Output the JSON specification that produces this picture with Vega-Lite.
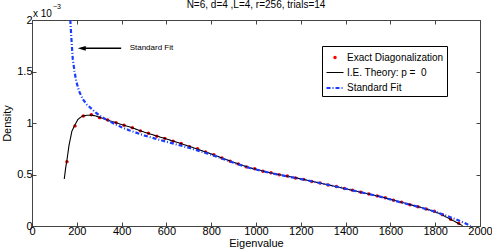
{
  "$schema": "https://vega.github.io/schema/vega-lite/v6.json",
  "width": 448,
  "height": 206,
  "autosize": "none",
  "padding": {"left": 32, "top": 20, "right": 12, "bottom": 26},
  "background": "white",
  "title": {"text": "N=6, d=4 ,L=4, r=256, trials=14", "font": "Liberation Sans", "fontSize": 10, "fontWeight": "normal", "color": "black", "offset": 2, "dy": 9},
  "config": {
    "view": {"stroke": "#444", "strokeWidth": 1},
    "axis": {"labelFont": "Liberation Sans", "labelFontSize": 11, "labelColor": "black", "titleFont": "Liberation Sans", "titleFontSize": 11, "titleFontWeight": "normal", "titleColor": "black", "grid": false, "domain": false, "tickColor": "#444", "tickSize": -4, "labelFlush": false, "labelOverlap": false},
    "legend": {"labelFont": "Liberation Sans", "labelFontSize": 10, "labelColor": "black"}
  },
  "datasets": {
    "curves": [
      {"series": "I.E. Theory: p = \u00a00", "eig": 144, "density": 0.456},
      {"series": "I.E. Theory: p = \u00a00", "eig": 150, "density": 0.56},
      {"series": "I.E. Theory: p = \u00a00", "eig": 156, "density": 0.64},
      {"series": "I.E. Theory: p = \u00a00", "eig": 165, "density": 0.78},
      {"series": "I.E. Theory: p = \u00a00", "eig": 178, "density": 0.92},
      {"series": "I.E. Theory: p = \u00a00", "eig": 190, "density": 0.975},
      {"series": "I.E. Theory: p = \u00a00", "eig": 205, "density": 1.035},
      {"series": "I.E. Theory: p = \u00a00", "eig": 224, "density": 1.066},
      {"series": "I.E. Theory: p = \u00a00", "eig": 245, "density": 1.075},
      {"series": "I.E. Theory: p = \u00a00", "eig": 265, "density": 1.077},
      {"series": "I.E. Theory: p = \u00a00", "eig": 285, "density": 1.068},
      {"series": "I.E. Theory: p = \u00a00", "eig": 302, "density": 1.055},
      {"series": "I.E. Theory: p = \u00a00", "eig": 340, "density": 1.026},
      {"series": "I.E. Theory: p = \u00a00", "eig": 369, "density": 1.007},
      {"series": "I.E. Theory: p = \u00a00", "eig": 400, "density": 0.985},
      {"series": "I.E. Theory: p = \u00a00", "eig": 436, "density": 0.962},
      {"series": "I.E. Theory: p = \u00a00", "eig": 500, "density": 0.912},
      {"series": "I.E. Theory: p = \u00a00", "eig": 570, "density": 0.865},
      {"series": "I.E. Theory: p = \u00a00", "eig": 640, "density": 0.818},
      {"series": "I.E. Theory: p = \u00a00", "eig": 704, "density": 0.772},
      {"series": "I.E. Theory: p = \u00a00", "eig": 800, "density": 0.700},
      {"series": "I.E. Theory: p = \u00a00", "eig": 900, "density": 0.618},
      {"series": "I.E. Theory: p = \u00a00", "eig": 972, "density": 0.566},
      {"series": "I.E. Theory: p = \u00a00", "eig": 1061, "density": 0.518},
      {"series": "I.E. Theory: p = \u00a00", "eig": 1130, "density": 0.488},
      {"series": "I.E. Theory: p = \u00a00", "eig": 1195, "density": 0.460},
      {"series": "I.E. Theory: p = \u00a00", "eig": 1300, "density": 0.410},
      {"series": "I.E. Theory: p = \u00a00", "eig": 1400, "density": 0.362},
      {"series": "I.E. Theory: p = \u00a00", "eig": 1464, "density": 0.330},
      {"series": "I.E. Theory: p = \u00a00", "eig": 1553, "density": 0.287},
      {"series": "I.E. Theory: p = \u00a00", "eig": 1642, "density": 0.235},
      {"series": "I.E. Theory: p = \u00a00", "eig": 1732, "density": 0.182},
      {"series": "I.E. Theory: p = \u00a00", "eig": 1777, "density": 0.155},
      {"series": "I.E. Theory: p = \u00a00", "eig": 1821, "density": 0.120},
      {"series": "I.E. Theory: p = \u00a00", "eig": 1866, "density": 0.068},
      {"series": "I.E. Theory: p = \u00a00", "eig": 1895, "density": 0.035},
      {"series": "I.E. Theory: p = \u00a00", "eig": 1922, "density": 0.003},
      {"series": "Standard Fit", "eig": 171, "density": 2.0},
      {"series": "Standard Fit", "eig": 175, "density": 1.85},
      {"series": "Standard Fit", "eig": 182, "density": 1.62},
      {"series": "Standard Fit", "eig": 190, "density": 1.50},
      {"series": "Standard Fit", "eig": 197, "density": 1.41},
      {"series": "Standard Fit", "eig": 210, "density": 1.31},
      {"series": "Standard Fit", "eig": 227, "density": 1.23},
      {"series": "Standard Fit", "eig": 245, "density": 1.18},
      {"series": "Standard Fit", "eig": 265, "density": 1.14},
      {"series": "Standard Fit", "eig": 285, "density": 1.10},
      {"series": "Standard Fit", "eig": 302, "density": 1.072},
      {"series": "Standard Fit", "eig": 330, "density": 1.035},
      {"series": "Standard Fit", "eig": 361, "density": 1.0},
      {"series": "Standard Fit", "eig": 400, "density": 0.958},
      {"series": "Standard Fit", "eig": 436, "density": 0.928},
      {"series": "Standard Fit", "eig": 500, "density": 0.880},
      {"series": "Standard Fit", "eig": 570, "density": 0.836},
      {"series": "Standard Fit", "eig": 640, "density": 0.795},
      {"series": "Standard Fit", "eig": 704, "density": 0.757},
      {"series": "Standard Fit", "eig": 800, "density": 0.692},
      {"series": "Standard Fit", "eig": 900, "density": 0.614},
      {"series": "Standard Fit", "eig": 972, "density": 0.563},
      {"series": "Standard Fit", "eig": 1061, "density": 0.516},
      {"series": "Standard Fit", "eig": 1195, "density": 0.458},
      {"series": "Standard Fit", "eig": 1300, "density": 0.410},
      {"series": "Standard Fit", "eig": 1400, "density": 0.362},
      {"series": "Standard Fit", "eig": 1464, "density": 0.330},
      {"series": "Standard Fit", "eig": 1553, "density": 0.285},
      {"series": "Standard Fit", "eig": 1642, "density": 0.232},
      {"series": "Standard Fit", "eig": 1732, "density": 0.182},
      {"series": "Standard Fit", "eig": 1800, "density": 0.138},
      {"series": "Standard Fit", "eig": 1850, "density": 0.100},
      {"series": "Standard Fit", "eig": 1900, "density": 0.058},
      {"series": "Standard Fit", "eig": 1930, "density": 0.030},
      {"series": "Standard Fit", "eig": 1958, "density": 0.0}
    ],
    "dots": [
      {"series": "Exact Diagonalization", "eig": 156, "density": 0.625},
      {"series": "Exact Diagonalization", "eig": 192, "density": 0.972},
      {"series": "Exact Diagonalization", "eig": 229, "density": 1.068},
      {"series": "Exact Diagonalization", "eig": 265, "density": 1.080},
      {"series": "Exact Diagonalization", "eig": 302, "density": 1.052},
      {"series": "Exact Diagonalization", "eig": 338, "density": 1.030},
      {"series": "Exact Diagonalization", "eig": 375, "density": 1.004},
      {"series": "Exact Diagonalization", "eig": 411, "density": 0.978},
      {"series": "Exact Diagonalization", "eig": 448, "density": 0.955},
      {"series": "Exact Diagonalization", "eig": 484, "density": 0.924},
      {"series": "Exact Diagonalization", "eig": 520, "density": 0.900},
      {"series": "Exact Diagonalization", "eig": 557, "density": 0.872},
      {"series": "Exact Diagonalization", "eig": 593, "density": 0.851},
      {"series": "Exact Diagonalization", "eig": 630, "density": 0.823},
      {"series": "Exact Diagonalization", "eig": 666, "density": 0.802},
      {"series": "Exact Diagonalization", "eig": 703, "density": 0.771},
      {"series": "Exact Diagonalization", "eig": 739, "density": 0.750},
      {"series": "Exact Diagonalization", "eig": 775, "density": 0.720},
      {"series": "Exact Diagonalization", "eig": 812, "density": 0.692},
      {"series": "Exact Diagonalization", "eig": 848, "density": 0.661},
      {"series": "Exact Diagonalization", "eig": 885, "density": 0.628},
      {"series": "Exact Diagonalization", "eig": 921, "density": 0.603},
      {"series": "Exact Diagonalization", "eig": 958, "density": 0.574},
      {"series": "Exact Diagonalization", "eig": 994, "density": 0.556},
      {"series": "Exact Diagonalization", "eig": 1031, "density": 0.532},
      {"series": "Exact Diagonalization", "eig": 1067, "density": 0.517},
      {"series": "Exact Diagonalization", "eig": 1103, "density": 0.498},
      {"series": "Exact Diagonalization", "eig": 1140, "density": 0.486},
      {"series": "Exact Diagonalization", "eig": 1176, "density": 0.466},
      {"series": "Exact Diagonalization", "eig": 1213, "density": 0.453},
      {"series": "Exact Diagonalization", "eig": 1249, "density": 0.432},
      {"series": "Exact Diagonalization", "eig": 1286, "density": 0.418},
      {"series": "Exact Diagonalization", "eig": 1322, "density": 0.398},
      {"series": "Exact Diagonalization", "eig": 1359, "density": 0.384},
      {"series": "Exact Diagonalization", "eig": 1395, "density": 0.364},
      {"series": "Exact Diagonalization", "eig": 1431, "density": 0.348},
      {"series": "Exact Diagonalization", "eig": 1468, "density": 0.327},
      {"series": "Exact Diagonalization", "eig": 1504, "density": 0.311},
      {"series": "Exact Diagonalization", "eig": 1541, "density": 0.292},
      {"series": "Exact Diagonalization", "eig": 1577, "density": 0.275},
      {"series": "Exact Diagonalization", "eig": 1614, "density": 0.251},
      {"series": "Exact Diagonalization", "eig": 1650, "density": 0.232},
      {"series": "Exact Diagonalization", "eig": 1687, "density": 0.207},
      {"series": "Exact Diagonalization", "eig": 1723, "density": 0.188},
      {"series": "Exact Diagonalization", "eig": 1759, "density": 0.165},
      {"series": "Exact Diagonalization", "eig": 1796, "density": 0.143},
      {"series": "Exact Diagonalization", "eig": 1832, "density": 0.110},
      {"series": "Exact Diagonalization", "eig": 1869, "density": 0.066},
      {"series": "Exact Diagonalization", "eig": 1905, "density": 0.026}
    ],
    "arrow": [{"eig": 222, "eig2": 398, "density": 1.725, "label": "Standard Fit", "labelEig": 436}]
  },
  "layer": [
    {
      "data": {"name": "dots"},
      "mark": {"type": "point", "filled": true, "size": 289, "opacity": 1},
      "encoding": {
        "x": {"field": "eig", "type": "quantitative", "scale": {"domain": [0, 2000], "nice": false}, "axis": {"title": "Eigenvalue", "format": "d", "values": [0, 200, 400, 600, 800, 1000, 1200, 1400, 1600, 1800, 2000], "labelPadding": 3, "titlePadding": 1}},
        "y": {"field": "density", "type": "quantitative", "scale": {"domain": [0, 2], "nice": false}, "axis": {"title": "Density", "values": [0, 0.5, 1, 1.5, 2], "format": "~g", "labelPadding": 4, "titlePadding": 4}},
        "color": {"field": "series", "type": "nominal", "scale": {"domain": ["Exact Diagonalization", "I.E. Theory: p = \u00a00", "Standard Fit"], "range": ["#ff0000", "#000000", "#1a3cff"]}, "legend": {"title": null, "orient": "none", "legendX": 290, "legendY": 26, "strokeColor": "black", "fillColor": "white", "padding": 3, "symbolSize": 289, "labelOffset": 2, "rowPadding": 0, "symbolStrokeWidth": 2}},
        "shape": {"field": "series", "type": "nominal", "scale": {"domain": ["Exact Diagonalization", "I.E. Theory: p = \u00a00", "Standard Fit"], "range": ["M-0.2,0a0.2,0.2 0 1,0 0.4,0a0.2,0.2 0 1,0 -0.4,0", "M-1,0H1", "M-1,0H1"]}, "legend": {"title": null}}
      }
    },
    {
      "data": {"name": "curves"},
      "mark": {"type": "line"},
      "encoding": {
        "x": {"field": "eig", "type": "quantitative", "axis": null},
        "y": {"field": "density", "type": "quantitative", "axis": null},
        "color": {"field": "series", "type": "nominal", "legend": {"title": null}},
        "strokeDash": {"field": "series", "type": "nominal", "scale": {"domain": ["Exact Diagonalization", "I.E. Theory: p = \u00a00", "Standard Fit"], "range": [[1, 0], [1, 0], [4, 2, 1, 2]]}, "legend": {"title": null}},
        "strokeWidth": {"field": "series", "type": "nominal", "scale": {"domain": ["Exact Diagonalization", "I.E. Theory: p = \u00a00", "Standard Fit"], "range": [0, 2.2, 1.3]}, "legend": {"title": null}}
      }
    },
    {
      "data": {"name": "arrow"},
      "mark": {"type": "rule", "color": "black", "strokeWidth": 1.5},
      "encoding": {
        "x": {"field": "eig", "type": "quantitative", "axis": null},
        "x2": {"field": "eig2"},
        "y": {"field": "density", "type": "quantitative", "axis": null}
      }
    },
    {
      "data": {"name": "arrow"},
      "mark": {"type": "point", "shape": "M-1,0L1,-0.6L1,0.6Z", "size": 64, "filled": true, "color": "black", "opacity": 1},
      "encoding": {
        "x": {"field": "eig", "type": "quantitative", "axis": null},
        "y": {"field": "density", "type": "quantitative", "axis": null}
      }
    },
    {
      "data": {"name": "arrow"},
      "mark": {"type": "text", "font": "Liberation Sans", "fontSize": 8, "align": "left", "baseline": "middle", "color": "black"},
      "encoding": {
        "x": {"field": "labelEig", "type": "quantitative", "axis": null},
        "y": {"field": "density", "type": "quantitative", "axis": null},
        "text": {"field": "label"}
      }
    },
    {
      "data": {"values": [{"t": "x 10"}]},
      "mark": {"type": "text", "font": "Liberation Sans", "fontSize": 10, "align": "left", "baseline": "alphabetic", "dx": 1, "dy": -3, "color": "black"},
      "encoding": {
        "x": {"datum": 0, "type": "quantitative", "axis": null},
        "y": {"datum": 2, "type": "quantitative", "axis": null},
        "text": {"field": "t"}
      }
    },
    {
      "data": {"values": [{"t": "−3"}]},
      "mark": {"type": "text", "font": "Liberation Sans", "fontSize": 7, "align": "left", "baseline": "alphabetic", "dx": 21, "dy": -11, "color": "black"},
      "encoding": {
        "x": {"datum": 0, "type": "quantitative", "axis": null},
        "y": {"datum": 2, "type": "quantitative", "axis": null},
        "text": {"field": "t"}
      }
    },
    {
      "data": {"name": "dots"},
      "mark": {"type": "point", "opacity": 0},
      "encoding": {
        "x": {"field": "eig", "type": "quantitative", "axis": {"orient": "top", "title": null, "labels": false, "values": [0, 200, 400, 600, 800, 1000, 1200, 1400, 1600, 1800, 2000]}},
        "y": {"field": "density", "type": "quantitative", "axis": {"orient": "right", "title": null, "labels": false, "values": [0, 0.5, 1, 1.5, 2]}}
      }
    }
  ],
  "resolve": {"axis": {"x": "independent", "y": "independent"}}
}
